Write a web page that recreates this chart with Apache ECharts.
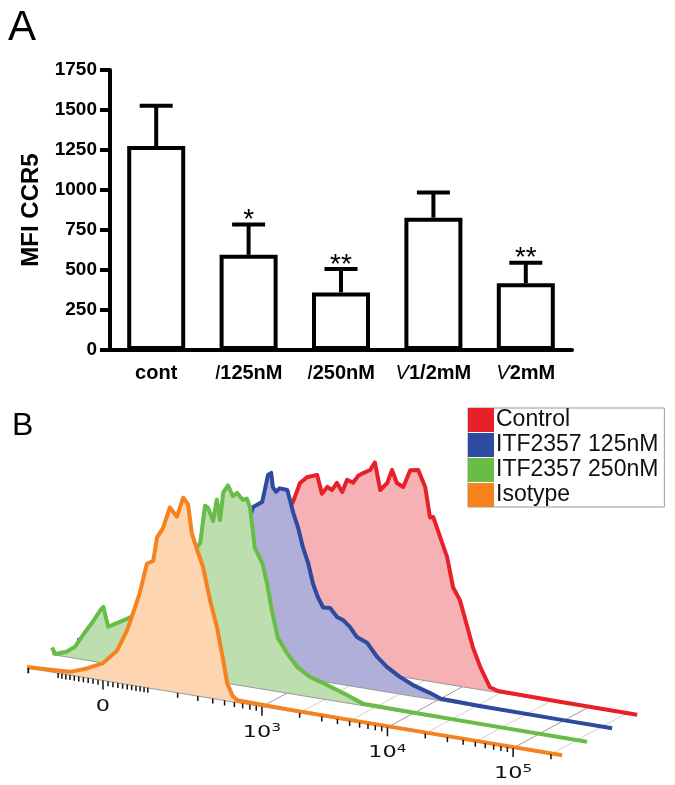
<!DOCTYPE html>
<html>
<head>
<meta charset="utf-8">
<script src="https://cdn.jsdelivr.net/npm/echarts@6/dist/echarts.min.js"></script>
<style>
html, body { margin: 0; padding: 0; background: #fff; }
#chart { width: 675px; height: 785px; }
</style>
</head>
<body>
<div id="chart"></div>
<script>
var FONT = "'Liberation Sans', Arial, sans-serif";

// ---- panel A: MFI CCR5 bars ----
var categories = ['cont', 'I125nM', 'I250nM', 'V1/2mM', 'V2mM'];
var mfiMean = [1275, 595, 360, 827, 417];
var mfiSem = [252, 190, 146, 158, 129];
var sigMarks = ['', '*', '**', '', '**'];

// ---- panel B: offset histograms, [channel, % of mode] ----
var histNames = ['Control', 'ITF2357 125nM', 'ITF2357 250nM', 'Isotype'];
var histLine = ['#e8202a', '#2d4a9f', '#67bd45', '#f5821f'];
var histFill = ['#f5b1b4', '#afafd9', '#bddfaf', '#fdd5b1'];

var controlHist = [[0,0.3],[10,2],[20,10],[25,25],[30,50],[33,68],[35.7,78.5],[37,88.5],[38.3,92],[40.2,94],
  [41.1,85],[42.1,88.8],[43,87.7],[43.9,91.6],[44.9,87.5],[45.8,94],[46.9,93],[47.9,97],[48.8,98.7],[50.1,100.8],
  [51,105],[52,91.6],[53.3,95.7],[54.2,102.6],[55.1,96.5],[56.3,95],[57.6,104],[59.1,104.7],[60.4,96.8],[61.3,82],
  [61.9,82.5],[63.2,73],[64.5,63.6],[65.6,49],[66.9,43],[68.2,31],[69.3,20.7],[70.7,11.3],[72.5,2],[74,0.8],
  [85,0.5],[100,0.4]];
var itf125Hist = [[0,0.5],[5,1.5],[10,4],[15,10],[20,22],[25,42],[28,56],[30,66],[32.3,76],[32.9,81.5],
  [34.6,84.7],[35.1,91],[35.7,98.7],[36.3,100],[36.6,93],[37.2,91],[37.9,93],[39.3,92.8],[39.8,88],[40.4,82],
  [41.3,75],[42.2,65.6],[43.2,58],[44.1,48],[45,41.8],[46,37],[47.3,37.3],[48.6,33.4],[49.7,32.4],[51,29.5],
  [52.3,25],[54.2,23],[56.1,16.7],[57.9,12.5],[60.4,8.5],[62.8,5.6],[66,3],[68,1],[75,0.6],[90,0.4],[100,0.4]];
var itf250Hist = [[0,3.5],[0.6,0.5],[2.7,2.6],[4.3,5.8],[6.2,14],[7.7,20],[9,26],[9.6,28],[10.5,18.5],[12.1,21],
  [14,24],[15.2,26],[18.3,35],[22.1,48],[24.9,58],[26.7,64],[27.7,68],[28.6,87],[29.2,86],[30.1,80],
  [30.8,91],[31.4,81],[32,95],[32.9,99],[33.8,94],[34.6,96],[35.7,93],[36.4,94],[37,90],[37.9,70],
  [39.3,63],[40.2,53],[41.1,40],[42.2,27],[43.9,20],[45.8,14],[48.2,10],[50.7,8],[54.4,4.7],[58.1,1],
  [65,0.7],[80,0.5],[100,0.4]];
var isotypeHist = [[0,0.5],[4,1],[8,1.6],[11.2,4.7],[14.2,8.7],[16.8,16],[18.7,27],[19.8,36],[21.1,47],[22.4,62],
  [23.6,64],[24.3,76],[25.4,81],[26.7,92],[28,88],[29.2,98],[30.1,95],[30.8,81],[31.8,73],[32.9,65],
  [34.2,49],[35.5,36],[36.6,21],[37.4,9],[38.4,3],[39.3,1.2],[48,0.8],[60,0.6],[80,0.5],[100,0.4]];
var hists = [controlHist, itf125Hist, itf250Hist, isotypeHist];
var histDepth = [3, 2, 1, 0];

// fluorescence axis
var decadeValues = [0, 1e3, 1e4, 1e5];
var decadeBase = ['0', '10', '10', '10'];
var decadeExp = ['', '3', '4', '5'];
var floorValues = [1e3, 2e3, 5e3, 1e4, 2e4, 5e4, 1e5, 2e5];
var minorValues = [];
[-1, 1].forEach(function (s) {
  for (var k = 1; k <= 9; k++) { minorValues.push(s * k * 10); minorValues.push(s * k * 100); }
});
minorValues.push(-200);
for (var k = 2; k <= 9; k++) { minorValues.push(k * 1e3); minorValues.push(k * 1e4); }
minorValues.push(2e5);

// biexponential-like display transform, value -> channel (0..100)
function chan(v) { return 14.2 + 10.2 * Math.asinh(v / 109); }

// oblique projection: channel, depth slot, height -> plot units
var DX = 4.673, DZ = 6.75, SLOPE = 0.44;
function proj(c, d, h) { return [c + d * DX, h + d * DZ - c * SLOPE]; }

function histSeries(k) {
  var pts = hists[k], d = histDepth[k];
  return {
    type: 'custom', name: histNames[k], xAxisIndex: 1, yAxisIndex: 1,
    z: 6 - d, clip: false, silent: true,
    itemStyle: { color: histLine[k] },
    data: [[0, 0]],
    renderItem: function (params, api) {
      var top = pts.map(function (p) { return api.coord(proj(p[0], d, p[1])); });
      var b0 = api.coord(proj(pts[0][0], d, 0));
      var b1 = api.coord(proj(pts[pts.length - 1][0], d, 0));
      return {
        type: 'group',
        children: [
          { type: 'polygon', shape: { points: top.concat([b1, b0]) }, style: { fill: histFill[k] } },
          { type: 'line', shape: { x1: b0[0], y1: b0[1], x2: b1[0], y2: b1[1] }, style: { stroke: '#999', lineWidth: 1 } },
          { type: 'polyline', shape: { points: top }, style: { stroke: histLine[k], lineWidth: 4, fill: null, lineJoin: 'round' } }
        ]
      };
    }
  };
}

var chart = echarts.init(document.getElementById('chart'));

var series = [
  {
    type: 'bar', xAxisIndex: 0, yAxisIndex: 0, data: mfiMean, barWidth: 58, silent: true,
    itemStyle: { color: '#fff', borderColor: '#000', borderWidth: 4 }
  },
  {
    type: 'custom', xAxisIndex: 0, yAxisIndex: 0, z: 5, silent: true,
    data: mfiMean.map(function (m, i) { return [i, m, m + mfiSem[i]]; }),
    renderItem: function (params, api) {
      var base = api.coord([api.value(0), api.value(1)]);
      var top = api.coord([api.value(0), api.value(2)]);
      var kids = [
        { type: 'line', shape: { x1: base[0], y1: base[1], x2: top[0], y2: top[1] }, style: { stroke: '#000', lineWidth: 4 } },
        { type: 'line', shape: { x1: top[0] - 16.5, y1: top[1], x2: top[0] + 16.5, y2: top[1] }, style: { stroke: '#000', lineWidth: 4 } }
      ];
      var mark = sigMarks[params.dataIndex];
      if (mark) {
        kids.push({ type: 'text', x: top[0], y: top[1] - 4,
          style: { text: mark, fontSize: 28, fontFamily: FONT, fill: '#000', align: 'center', verticalAlign: 'middle' } });
      }
      return { type: 'group', children: kids };
    }
  },
  {
    // floor grid of the 3D view
    type: 'custom', xAxisIndex: 1, yAxisIndex: 1, z: 1, clip: false, silent: true,
    data: floorValues.map(function (v) { return [chan(v), Math.log10(v) % 1 === 0 ? 1 : 0]; }),
    renderItem: function (params, api) {
      var c = api.value(0);
      var p0 = api.coord(proj(c, 0, 0)), p1 = api.coord(proj(c, 3, 0));
      return { type: 'line', shape: { x1: p0[0], y1: p0[1], x2: p1[0], y2: p1[1] },
        style: { stroke: api.value(1) ? '#9a9a9a' : '#d0d0d0', lineWidth: 1 } };
    }
  }
];
[0, 1, 2, 3].forEach(function (k) { series.push(histSeries(k)); });

series.push({
  // ticks hanging under the front axis
  type: 'custom', xAxisIndex: 1, yAxisIndex: 1, z: 8, clip: false, silent: true,
  data: decadeValues.map(function (v) { return [chan(v), 4.5]; })
    .concat(minorValues.map(function (v) { return [chan(v), 2.5]; }))
    .filter(function (t) { return t[0] >= 0 && t[0] <= 100; }),
  renderItem: function (params, api) {
    var c = api.value(0);
    var p0 = api.coord(proj(c, 0, 0)), p1 = api.coord(proj(c, 0, -api.value(1)));
    return { type: 'line', shape: { x1: p0[0], y1: p0[1], x2: p1[0], y2: p1[1] },
      style: { stroke: '#111', lineWidth: 1.5 } };
  }
});
series.push({
  type: 'custom', xAxisIndex: 1, yAxisIndex: 1, z: 8, clip: false, silent: true,
  data: decadeValues.map(function (v, i) { return [chan(v), i]; }),
  renderItem: function (params, api) {
    var i = api.value(1);
    var p = api.coord(proj(api.value(0), 0, -8));
    var txt = decadeExp[i] ? '{b|' + decadeBase[i] + '}{s|' + decadeExp[i] + '}' : '{b|' + decadeBase[i] + '}';
    return { type: 'text', x: p[0], y: p[1], scaleX: 1.4, originX: 0, originY: 0,
      style: { text: txt, fill: '#111', align: 'center', verticalAlign: 'top',
        rich: {
          b: { fontSize: 16, fontFamily: "'DejaVu Sans', sans-serif", fill: '#111', lineHeight: 18, verticalAlign: 'bottom' },
          s: { fontSize: 11, fontFamily: "'DejaVu Sans', sans-serif", fill: '#111', lineHeight: 18, verticalAlign: 'top' }
        } } };
  }
});

chart.setOption({
  animation: false,
  graphic: [
    { type: 'text', left: 8, top: 7, style: { text: 'A', fontSize: 42, fontFamily: FONT, fill: '#000' } },
    { type: 'text', left: 12, top: 410, style: { text: 'B', fontSize: 32, fontFamily: FONT, fill: '#000' } }
  ],
  legend: {
    data: histNames, orient: 'vertical', left: 468, top: 408, icon: 'rect',
    itemWidth: 26, itemHeight: 24, itemGap: 1, padding: [0, 6, 0, 0],
    borderColor: '#999', borderWidth: 1, selectedMode: false,
    textStyle: { fontSize: 23, fontFamily: FONT, color: '#111', padding: [0, 0, 0, -3] }
  },
  grid: [
    { left: 110, top: 70, width: 462, height: 280, outerBoundsMode: 'none' },
    { left: 27, top: 448, width: 610, height: 320, outerBoundsMode: 'none' }
  ],
  xAxis: [
    {
      type: 'category', gridIndex: 0, data: categories,
      axisLine: { lineStyle: { color: '#000', width: 4 } },
      axisTick: { alignWithLabel: true, length: 8, lineStyle: { color: '#000', width: 4 } },
      axisLabel: {
        interval: 0, margin: 12, color: '#000',
        formatter: function (v) {
          var ch = v.charAt(0);
          return (ch === 'I' || ch === 'V') ? '{i|' + ch + '}{b|' + v.slice(1) + '}' : '{b|' + v + '}';
        },
        rich: {
          b: { fontSize: 20, fontWeight: 'bold', fontFamily: FONT, color: '#000', lineHeight: 22 },
          i: { fontSize: 20, fontStyle: 'italic', fontWeight: 'normal', fontFamily: FONT, color: '#000', lineHeight: 22 }
        }
      }
    },
    { type: 'value', gridIndex: 1, min: 0, max: 114, show: false }
  ],
  yAxis: [
    {
      type: 'value', gridIndex: 0, min: 0, max: 1750, interval: 250,
      name: 'MFI CCR5', nameLocation: 'middle', nameGap: 45,
      nameTextStyle: { fontSize: 24, fontWeight: 'bold', fontFamily: FONT, color: '#000' },
      axisLine: { show: true, lineStyle: { color: '#000', width: 4 } },
      axisTick: { show: true, length: 10, lineStyle: { color: '#000', width: 4 } },
      axisLabel: { margin: 13, fontSize: 19, fontWeight: 'bold', fontFamily: FONT, color: '#000',
        formatter: function (v) { return String(v); } },
      splitLine: { show: false }
    },
    { type: 'value', gridIndex: 1, min: -50, max: 110, show: false }
  ],
  series: series
});
</script>
</body>
</html>
